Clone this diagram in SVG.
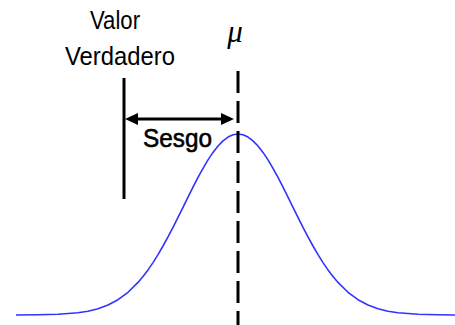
<svg xmlns="http://www.w3.org/2000/svg" width="455" height="325" viewBox="0 0 455 325">
<style>
.lbl{font-family:"Liberation Sans",Arial,sans-serif;font-size:26.5px;fill:#000}
.bias{font-family:"Liberation Sans",Arial,sans-serif;font-size:26px;fill:#000;stroke:#000;stroke-width:0.6}
.mu{font-family:"Liberation Serif","Times New Roman",serif;font-style:italic;font-size:31px;fill:#000}
.ln{stroke:#000;stroke-width:3;fill:none}
</style>
<defs>
<marker id="ah" viewBox="0 0 13 12" refX="9" refY="6" markerWidth="13" markerHeight="12" markerUnits="userSpaceOnUse" orient="auto-start-reverse">
<path d="M0,0 L13,6 L0,12 z" fill="#000"/>
</marker>
</defs>
<rect width="455" height="325" fill="#fff"/>
<g id="curve">
<polyline fill="none" stroke="#3333ff" stroke-width="1.6" stroke-linejoin="round" points="16,315 38,314.8 58,314.3 78,312.8 88,311.2 98,308.7 108,305 118,299.7 128,292.3 138,282.4 143,276.5 148,269.9 153,262.6 158,254.6 163,246 168,236.9 173,227.3 178,217.4 183,207.3 188,197.1 193,187.1 198,177.4 203,168.3 208,159.9 213,152.4 218,146 223,140.9 228,137.1 233,134.8 238,134 243,134.8 248,137.1 253,140.9 258,146 263,152.4 268,159.9 273,168.3 278,177.4 283,187.1 288,197.1 293,207.3 298,217.4 303,227.3 308,236.9 313,246 318,254.6 323,262.6 328,269.9 333,276.5 338,282.4 348,292.3 358,299.7 368,305 378,308.7 388,311.2 398,312.8 418,314.3 438,314.8 455,315"/>
</g>
<g id="true-value">
<line class="ln" x1="124" y1="78" x2="124" y2="199"/>
<text class="lbl" x="90" y="29" textLength="50" lengthAdjust="spacingAndGlyphs">Valor</text>
<text class="lbl" x="65" y="65" textLength="110" lengthAdjust="spacingAndGlyphs">Verdadero</text>
</g>
<g id="mean">
<line class="ln" x1="238" y1="71" x2="238" y2="325" stroke-dasharray="22 8"/>
<text class="mu" x="235" y="42" text-anchor="middle">μ</text>
</g>
<g id="connectors">
<line class="ln" x1="129" y1="119" x2="230" y2="119" marker-start="url(#ah)" marker-end="url(#ah)"/>
</g>
<g id="bias">
<text class="bias" x="143" y="147" textLength="69" lengthAdjust="spacingAndGlyphs">Sesgo</text>
</g>
</svg>
